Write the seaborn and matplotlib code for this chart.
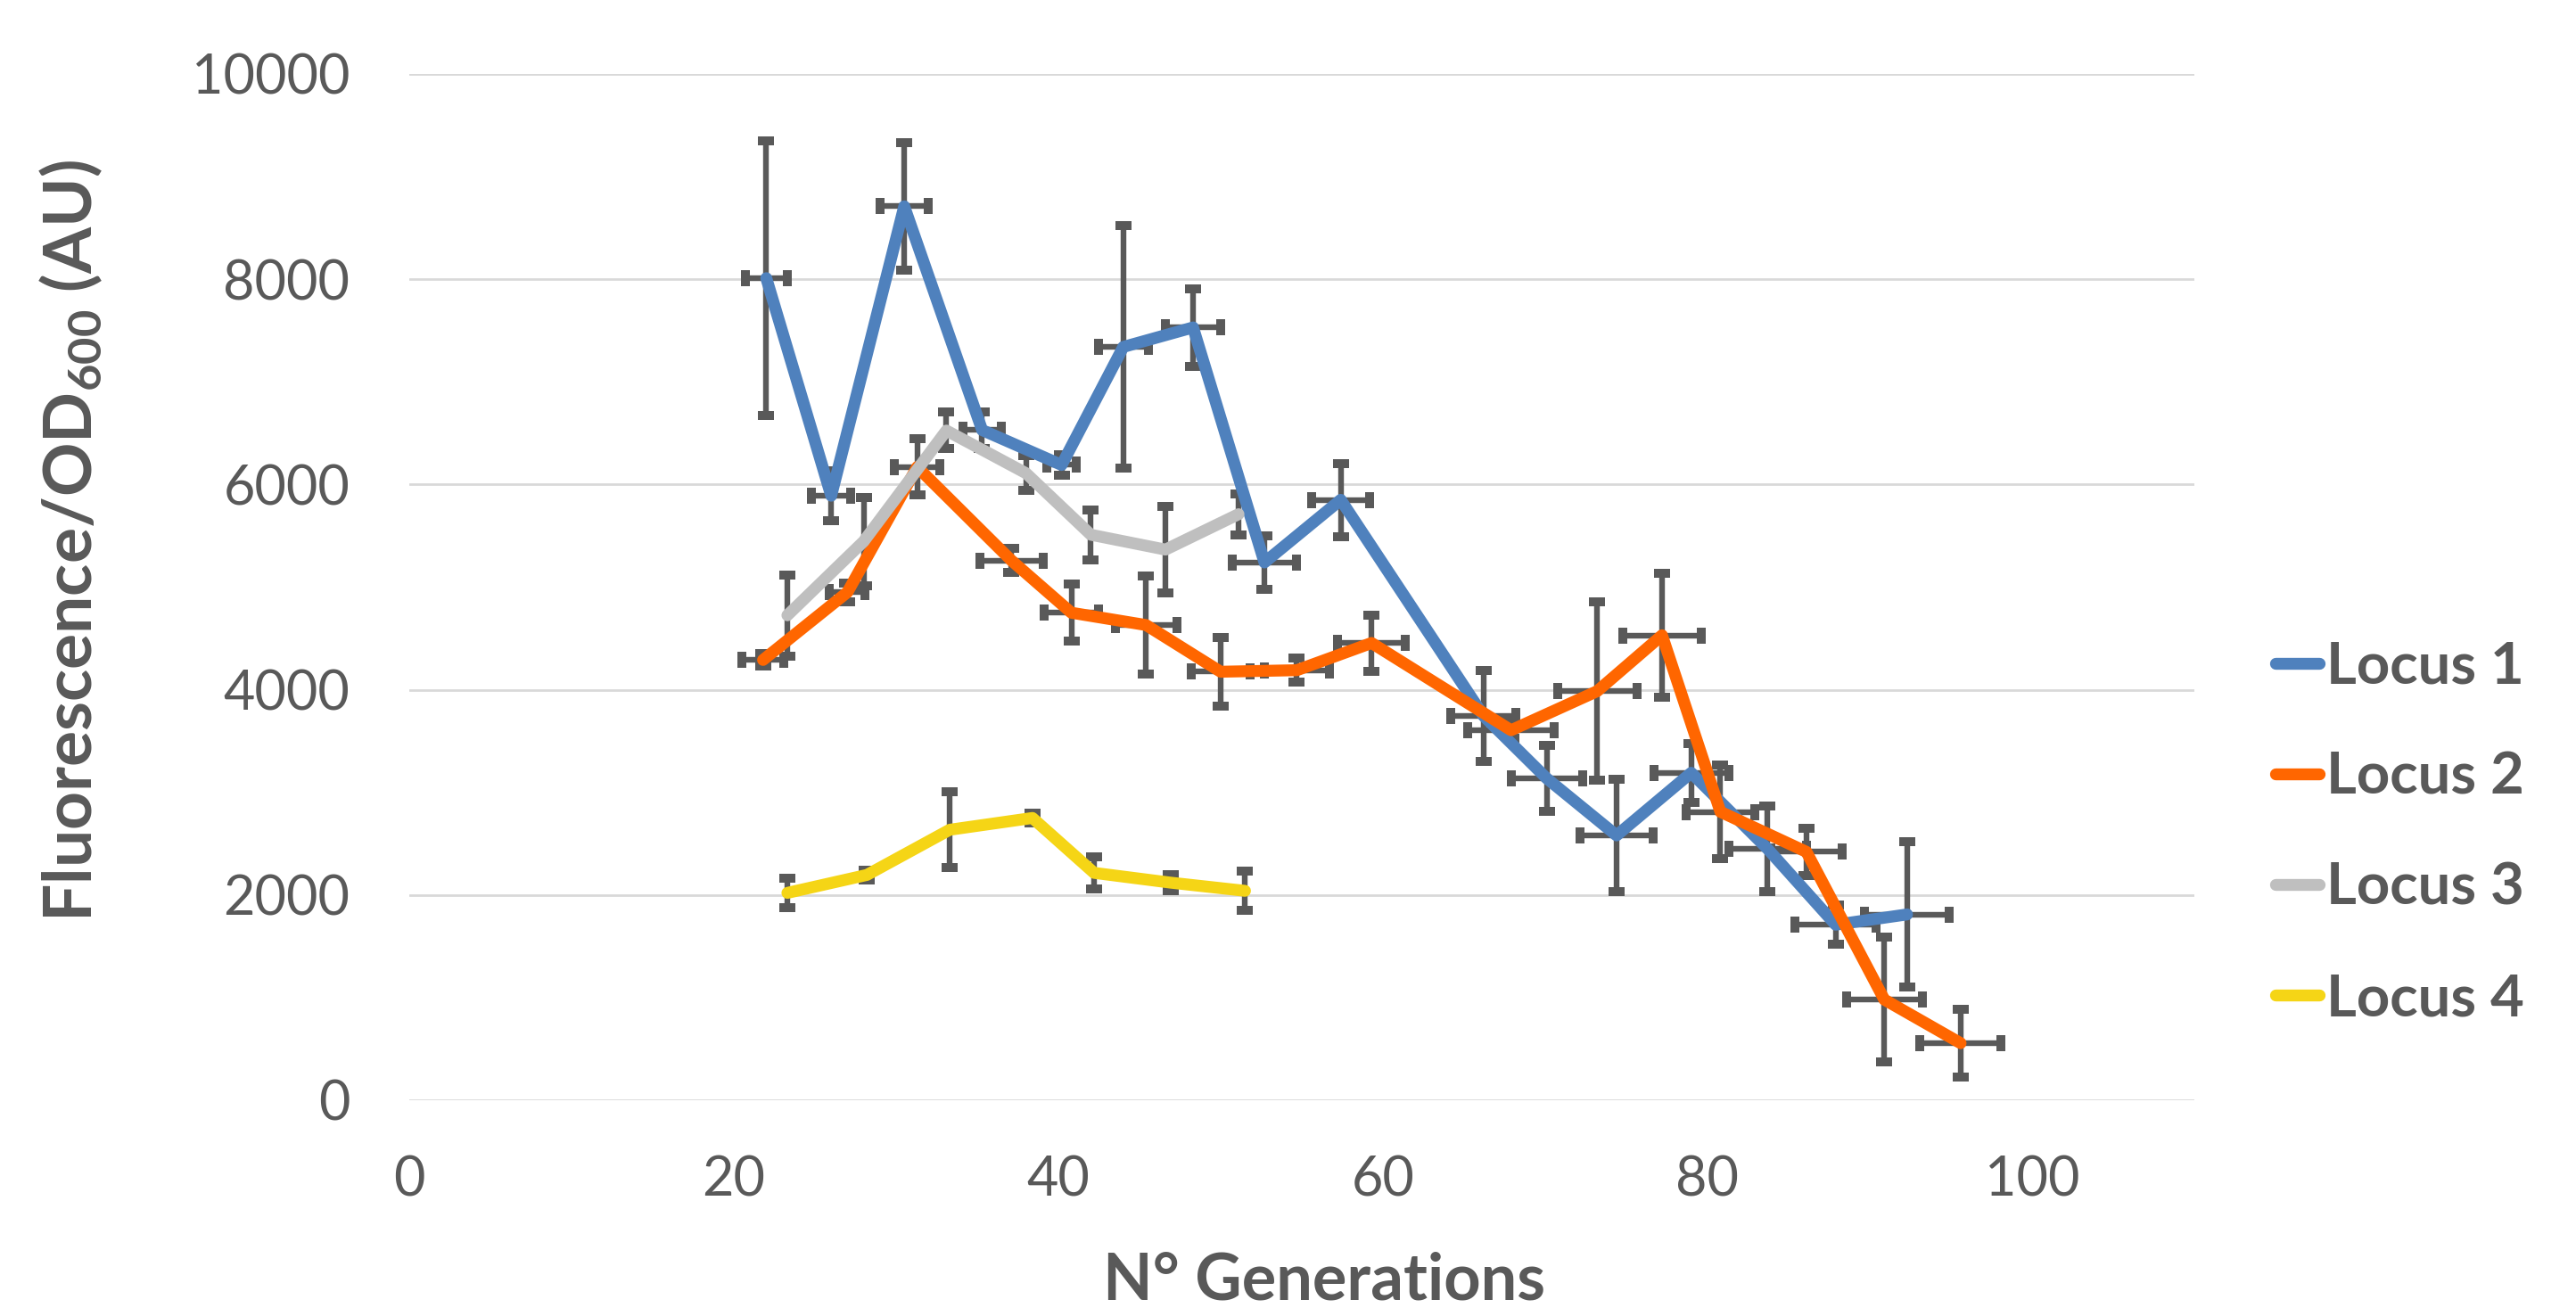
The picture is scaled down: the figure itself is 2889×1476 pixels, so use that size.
import pandas as pd
import matplotlib.pyplot as plt
import seaborn as sns
import numpy as np

# Values
loci = ['Locus 1', 'Locus 2', 'Locus 3', 'Locus 4']

gen1 = [22.0, 26.0, 30.5, 35.3, 40.2, 44.0, 48.3, 52.7, 57.4, 66.2, 70.1, 74.4, 79.0, 83.7, 87.9, 92.3]
fl1 = [8010, 5890, 8710, 6530, 6190, 7340, 7530, 5240, 5850, 3745, 3135, 2580, 3190, 2450, 1710, 1810]
fl1_err = [1340, 245, 620, 180, 100, 1180, 380, 260, 356, 440, 320, 545, 285, 420, 190, 710]
gen1_err = [1.3, 1.2, 1.5, 1.2, 0.9, 1.55, 1.7, 2.0, 1.8, 2.0, 2.2, 2.25, 2.3, 2.4, 2.5, 2.6]

gen2 = [21.8, 27.0, 31.3, 37.1, 40.8, 45.4, 50.0, 54.7, 59.3, 67.9, 73.2, 77.2, 80.8, 86.1, 90.9, 95.6]
fl2 = [4290, 4950, 6170, 5260, 4750, 4630, 4175, 4190, 4455, 3605, 3985, 4530, 2810, 2420, 980, 556]
fl2_err = [60, 90, 275, 115, 280, 475, 335, 120, 275, 80, 870, 600, 460, 230, 610, 330]
gen2_err = [1.3, 1.1, 1.4, 1.95, 1.7, 1.9, 1.8, 2.0, 2.1, 2.65, 2.45, 2.4, 2.1, 2.2, 2.35, 2.5]

gen3 = [23.3, 28.0, 33.1, 38.0, 42.0, 46.6, 51.1]
fl3 = [4725, 5445, 6525, 6110, 5510, 5365, 5710]
fl3_err = [395, 430, 178, 167, 243, 420, 200]

gen4 = [23.3, 28.2, 33.3, 38.4, 42.2, 46.9, 51.5]
fl4 = [2020, 2195, 2635, 2750, 2215, 2120, 2040]
fl4_err = [140, 50, 370, 50, 160, 80, 190]

colors = ['#4F81BD', '#FF6600', '#BFBFBF', '#F5D516']
text_color = '#595959'

series = [
    (gen1, fl1, gen1_err, fl1_err),
    (gen2, fl2, gen2_err, fl2_err),
    (gen3, fl3, None, fl3_err),
    (gen4, fl4, None, fl4_err),
]

# Long-form table for seaborn
df = pd.concat([
    pd.DataFrame({'gen': g, 'fl': f, 'Locus': name, 'order': np.arange(len(g))})
    for name, (g, f, _, _) in zip(loci, series)
], ignore_index=True)

sns.set_theme(style='white')
plt.rcParams['font.family'] = ['Lato', 'DejaVu Sans']
plt.rcParams['mathtext.fontset'] = 'custom'
plt.rcParams['mathtext.rm'] = 'Lato:bold'
plt.rcParams['mathtext.default'] = 'rm'

fig = plt.figure(figsize=(14.445, 7.38), dpi=200)
ax = fig.add_axes([0.1589, 0.164, 0.6929, 0.7798])

# Error bars (behind the lines)
for g, f, gx, fy in series:
    ax.errorbar(g, f, yerr=fy, xerr=gx, fmt='none', ecolor=text_color,
                elinewidth=2.3, capsize=3.3, capthick=3.6, zorder=2)

# Lines
sns.lineplot(data=df, x='gen', y='fl', hue='Locus', palette=colors,
             hue_order=loci, sort=False, estimator=None, linewidth=4.8,
             solid_capstyle='round', solid_joinstyle='round', ax=ax, zorder=3)

ax.set_xlim(0, 110)
ax.set_ylim(0, 10000)
ax.set_xticks(range(0, 101, 20))
ax.set_yticks(range(0, 10001, 2000))
ax.yaxis.grid(True, color='#D9D9D9', linewidth=1.0)
ax.set_axisbelow(True)
for s in ax.spines.values():
    s.set_visible(False)
ax.tick_params(axis='both', length=0, labelsize=22, colors=text_color)
ax.tick_params(axis='x', pad=22)
ax.tick_params(axis='y', pad=24)

ax.set_xlabel('N° Generations', fontsize=26, fontweight='bold', color=text_color)
ax.xaxis.set_label_coords(0.5125, -0.147)
ax.set_ylabel('Fluorescence/OD$_{600}$ (AU)', fontsize=27, fontweight='bold',
              color=text_color)
ax.yaxis.set_label_coords(-0.171, 0.545)

handles, labels = ax.get_legend_handles_labels()
ax.get_legend().remove()
for h in handles:
    h.set_solid_capstyle('round')
leg = fig.legend(handles, labels, loc='center left', bbox_to_anchor=(0.863, 0.367),
                 frameon=False, prop={'size': 23.5, 'weight': 'bold'},
                 handlelength=0.75, handletextpad=0.12, labelspacing=1.0)
for t in leg.get_texts():
    t.set_color(text_color)

plt.savefig('out.png', dpi=200)
